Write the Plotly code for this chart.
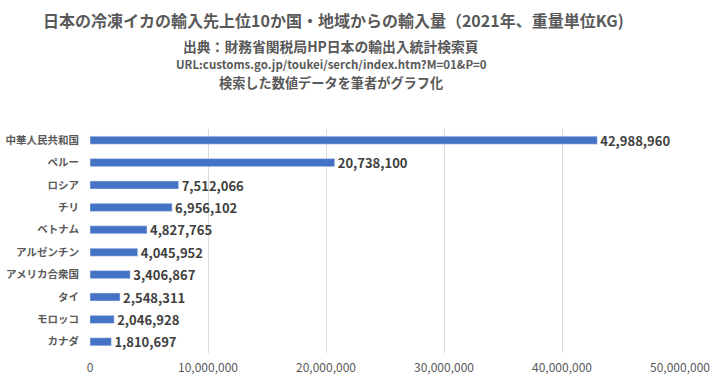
import plotly.graph_objects as go

countries = ["中華人民共和国", "ペルー", "ロシア", "チリ", "ベトナム", "アルゼンチン",
             "アメリカ合衆国", "タイ", "モロッコ", "カナダ"]
volumes = [42988960, 20738100, 7512066, 6956102, 4827765, 4045952,
           3406867, 2548311, 2046928, 1810697]
tick_vals = [0, 10000000, 20000000, 30000000, 40000000, 50000000]
tick_text = ["0", "10,000,000", "20,000,000", "30,000,000", "40,000,000", "50,000,000"]

title = "日本の冷凍イカの輸入先上位10か国・地域からの輸入量（2021年、重量単位KG)"
sub1 = "出典：財務省関税局HP日本の輸出入統計検索頁"
sub2 = "URL:customs.go.jp/toukei/serch/index.htm?M=01&P=0"
sub3 = "検索した数値データを筆者がグラフ化"

FONT = "Noto Sans CJK JP"
NUMFONT = "Liberation Sans Narrow, Noto Sans CJK JP"

L, R, T, B = 90, 40, 129, 26
W, H = 720, 379

fig = go.Figure(go.Bar(
    x=volumes, y=countries, orientation="h",
    marker=dict(color="#4472C4"),
    text=[f"{v:,}" for v in volumes], textposition="outside",
    constraintext="none",
    textfont=dict(family=FONT, size=13, color="#404040", weight="bold"),
    cliponaxis=False,
    hoverinfo="none",
))

fig.update_layout(
    width=W, height=H,
    margin=dict(l=L, r=R, t=T, b=B, autoexpand=False),
    paper_bgcolor="white", plot_bgcolor="white",
    bargap=0.64,
    showlegend=False,
    font=dict(family=FONT, color="#595959"),
    xaxis=dict(range=[0, 50000000], tickvals=tick_vals, ticktext=tick_text,
               showgrid=True, gridcolor="#D9D9D9", gridwidth=1, zeroline=False,
               showline=False, automargin=False,
               tickfont=dict(family=NUMFONT, size=12, color="#595959"),
               ticks="outside", ticklen=4, tickcolor="rgba(0,0,0,0)"),
    yaxis=dict(autorange="reversed", showgrid=False, zeroline=False,
               automargin=False,
               tickfont=dict(size=10.5, color="#595959", weight="bold"),
               ticks="outside", ticklen=8, tickcolor="rgba(0,0,0,0)"),
)

annos = [
    (title, 333, 20, 16),
    (sub1, 331, 46, 13.8),
    (sub2, 331, 64, 11.5),
    (sub3, 331, 82, 13.2),
]
plot_w = W - L - R
plot_h = H - T - B
for txt, xpx, ypx, sz in annos:
    fig.add_annotation(text=txt, x=(xpx - L) / plot_w, y=(H - B - ypx) / plot_h,
                       xref="paper", yref="paper", xanchor="center", yanchor="middle",
                       showarrow=False,
                       font=dict(size=sz, color="#595959", weight="bold"))

fig.write_html("out.html", config={"displayModeBar": False},
               post_script="document.body.style.margin='0';document.body.style.overflow='hidden';")
